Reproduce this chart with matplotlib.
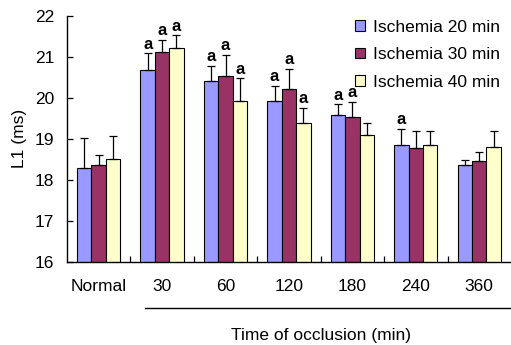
import matplotlib
matplotlib.use("Agg")
import matplotlib.pyplot as plt
import matplotlib.transforms as mtransforms
import numpy as np

plt.rcParams['font.family'] = ['Liberation Sans', 'DejaVu Sans']

# Data
groups = ["Normal", "30", "60", "120", "180", "240", "360"]
series = ["Ischemia 20 min", "Ischemia 30 min", "Ischemia 40 min"]
colors = ["#9999FF", "#993366", "#FFFFCC"]

means_20 = [18.30, 20.68, 20.41, 19.93, 19.57, 18.84, 18.36]
means_30 = [18.36, 21.11, 20.54, 20.21, 19.53, 18.78, 18.46]
means_40 = [18.50, 21.22, 19.93, 19.39, 19.09, 18.84, 18.79]

err_20 = [0.72, 0.41, 0.37, 0.36, 0.28, 0.41, 0.13]
err_30 = [0.25, 0.30, 0.51, 0.50, 0.37, 0.42, 0.22]
err_40 = [0.56, 0.31, 0.54, 0.37, 0.30, 0.36, 0.41]

# significance marks ("a") per series
sig_20 = [False, True, True, True, True, True, False]
sig_30 = [False, True, True, True, True, False, False]
sig_40 = [False, True, True, True, False, False, False]

means = [means_20, means_30, means_40]
errs = [err_20, err_30, err_40]
sigs = [sig_20, sig_30, sig_40]

FS = 12.5

fig = plt.figure(figsize=(5.11, 3.45), dpi=100)
ax = fig.add_axes([0.131, 0.2406, 0.869, 0.714])

x = np.arange(len(groups))
width = 0.227
offsets = [-width, 0, width]

for m, e, s, col, lab, off in zip(means, errs, sigs, colors, series, offsets):
    xs = x + off
    ax.bar(xs, m, width, bottom=0, color=col, edgecolor="black",
           linewidth=0.8, label=lab, zorder=2)
    ax.errorbar(xs, m, yerr=[np.zeros(len(m)), e], fmt="none",
                ecolor="black", elinewidth=0.9, capsize=3.2,
                capthick=0.9, zorder=3)
    for xi, mi, ei, si in zip(xs, m, e, s):
        if si:
            ax.annotate("a", (xi, mi + ei), xytext=(0, 1),
                        textcoords="offset points", ha="center",
                        va="bottom", fontsize=12, fontweight="bold")

ax.set_ylim(16, 22)
ax.set_xlim(-0.5, len(groups) - 0.5)
ax.set_yticks([16, 17, 18, 19, 20, 21, 22])
ax.tick_params(axis="y", direction="in", length=4, width=0.9,
               labelsize=FS, pad=9)

ax.set_xticks(np.arange(0.5, len(groups) - 1, 1.0))
ax.set_xticks(x, minor=True)
ax.set_xticklabels(groups, minor=True)
ax.tick_params(axis="x", which="major", direction="in", length=4,
               width=0.9, labelbottom=False)
ax.tick_params(axis="x", which="minor", length=0, labelsize=FS, pad=12)

for side in ["top", "right"]:
    ax.spines[side].set_visible(False)
for side in ["left", "bottom"]:
    ax.spines[side].set_linewidth(1.0)

ax.set_ylabel("L1 (ms)", fontsize=FS, labelpad=6)

# bracket line and group title under the occlusion times
trans = mtransforms.blended_transform_factory(ax.transData, ax.transAxes)
ax.plot([0.73, 6.5], [-0.187, -0.187], color="black", linewidth=1.0,
        transform=trans, clip_on=False)
ax.text(3.5, -0.298, "Time of occlusion (min)", transform=trans,
        ha="center", va="center", fontsize=FS)

ax.legend(loc="upper left", bbox_to_anchor=(0.695, 0.943),
          bbox_transform=fig.transFigure, frameon=False, fontsize=FS,
          handlelength=0.55, handleheight=0.55, handletextpad=0.45,
          labelspacing=0.72, borderpad=0, borderaxespad=0)

fig.savefig("out.png", dpi=100)
